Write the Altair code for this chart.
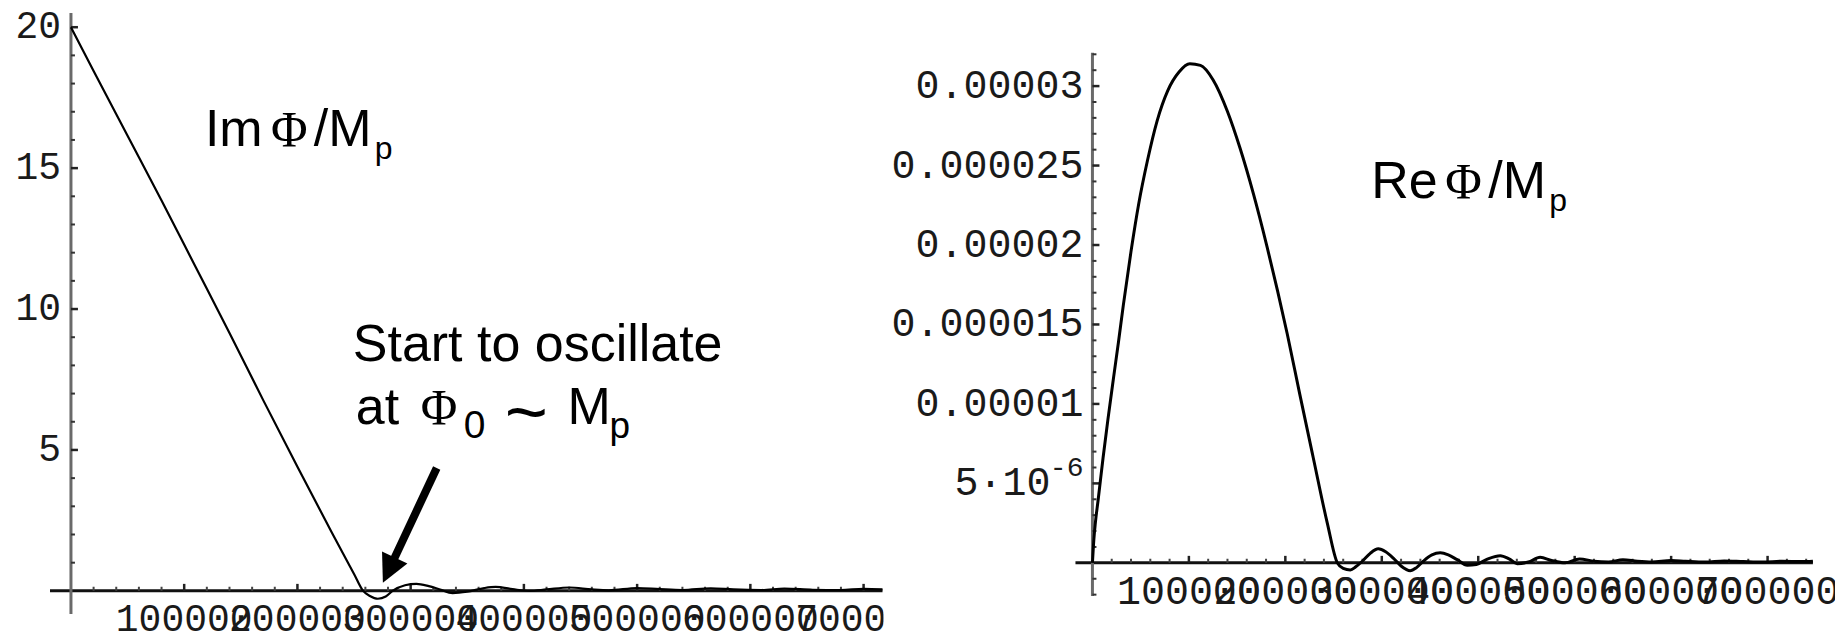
import altair as alt
import pandas as pd

# ---------------- data: left panel (Im Phi / Mp) ----------------
im_x = [0, 20000, 50000, 80000, 110000, 140000, 170000, 200000, 230000, 250000,
        258000, 264000, 271000, 278000, 284000, 295000, 305000, 316000, 326000, 337000,
        350000, 365000, 375000, 390000, 405000, 420000, 440000, 460000, 475000, 500000,
        520000, 540000, 565000, 585000, 610000, 630000, 655000, 680000, 700000, 716700]
im_y = [20.0, 18.45, 16.15, 13.85, 11.5, 9.15, 6.75, 4.4, 2.1, 0.6,
        0.0, -0.18, -0.28, -0.2, 0.0, 0.2, 0.25, 0.17, 0.05, -0.08,
        -0.03, 0.1, 0.14, 0.06, 0.0, 0.05, 0.12, 0.05, 0.02, 0.1,
        0.06, 0.03, 0.09, 0.05, 0.03, 0.08, 0.04, 0.03, 0.07, 0.05]

# ---------------- data: right panel (Re Phi / Mp), y in units of 1e-6 ----------------
re_x = [0, 1500, 3000, 6000, 11000, 16000, 22000, 27000, 32000, 40000,
        48000, 57000, 67000, 78000, 90000, 101000, 112000, 125000, 140000, 153000,
        167000, 181000, 192000, 202000, 215000, 229000, 243500, 253900, 260000, 267400,
        273000, 279800, 288000, 296400, 304000, 311900, 320000, 329500, 336000, 343000,
        352000, 360600, 369000, 378200, 388600, 398000, 410000, 422800, 432000, 440400,
        452000, 464200, 476000, 490000, 505000, 520000, 535000, 550000, 565000, 580000,
        600000, 615000, 635000, 655000, 675000, 695000, 715000, 735000, 747000]
re_y = [0, 1.5, 2.5, 4.0, 6.6, 9.0, 11.7, 13.9, 16.2, 19.6,
        22.6, 25.3, 27.8, 29.7, 30.9, 31.4, 31.3, 30.4, 28.4, 26.1,
        23.2, 19.9, 17.1, 14.4, 10.6, 6.6, 2.5, 0.0, -0.35, -0.45,
        -0.25, 0.1, 0.6, 0.88, 0.7, 0.3, -0.2, -0.5, -0.3, 0.1,
        0.5, 0.63, 0.5, 0.2, -0.15, -0.1, 0.25, 0.45, 0.25, -0.05,
        0.05, 0.35, 0.15, 0.0, 0.25, 0.1, 0.05, 0.2, 0.1, 0.05,
        0.15, 0.1, 0.05, 0.12, 0.08, 0.05, 0.1, 0.08, 0.1]

# ---------------- ticks and labels ----------------
x_major = [100000, 200000, 300000, 400000, 500000, 600000, 700000]
x_labels = ["100000", "200000", "300000", "400000", "500000", "600000", "700000"]
x_minor = [20000, 40000, 60000, 80000, 120000, 140000, 160000, 180000, 220000, 240000,
           260000, 280000, 320000, 340000, 360000, 380000, 420000, 440000, 460000, 480000,
           520000, 540000, 560000, 580000, 620000, 640000, 660000, 680000, 720000, 740000]

ly_major = [5, 10, 15, 20]
ly_labels = ["5", "10", "15", "20"]
ly_minor = [1, 2, 3, 4, 6, 7, 8, 9, 11, 12, 13, 14, 16, 17, 18, 19]

ry_major = [5, 10, 15, 20, 25, 30]
ry_labels = ["5·10", "0.00001", "0.000015", "0.00002", "0.000025", "0.00003"]
ry_exponent = "-6"
ry_minor = [-2, -1, 1, 2, 3, 4, 6, 7, 8, 9, 11, 12, 13, 14, 16, 17, 18, 19,
            21, 22, 23, 24, 26, 27, 28, 29, 31, 32]

# axis line extents (data units)
l_xaxis = [-18500, 716700]
l_yaxis = [-0.82, 20.5]
r_xaxis = [-17600, 747000]
r_yaxis = [-2.08, 32.1]

# annotation anchors (data units)
im_title = (118300, 15.78)
osc_line1 = (248900, 8.156)
osc_line2 = (251500, 5.922)
arrow_shaft = (323000, 4.36, 283300, 0.957)
arrow_head = (280700, 0.734)
re_title = (289100, 22.96)

# ---------------- layout ----------------
W1, W2, H = 876, 949, 624
lxs = alt.Scale(domain=[-55600, 717600], nice=False, zero=False)
lys = alt.Scale(domain=[-1.489, 20.64], nice=False, zero=False)
rxs = alt.Scale(domain=[-213500, 769900], nice=False, zero=False)
rys = alt.Scale(domain=[-4.403, 34.84], nice=False, zero=False)

MONO = "Liberation Mono"
SANS = "Liberation Sans"
SERIF = "Liberation Serif"
INK = "#1a1a1a"


def X(f, s):
    return alt.X(f, scale=s, axis=None)


def Y(f, s):
    return alt.Y(f, scale=s, axis=None)


def txt(x, y, text, xs, ys, **kw):
    d = pd.DataFrame({"x": [x], "y": [y], "t": [text]})
    return alt.Chart(d).mark_text(color="black", align="left", baseline="alphabetic", **kw).encode(
        x=X("x:Q", xs), y=Y("y:Q", ys), text="t:N")


def axes_layers(xs, ys, xaxis, yaxis, ymaj, ymin, xfont, xdy):
    ax_df = pd.DataFrame({"x": [xaxis[0], 0], "x2": [xaxis[1], 0],
                          "y": [0, yaxis[0]], "y2": [0, yaxis[1]], "c": ["x", "y"]})
    lines = alt.Chart(ax_df).mark_rule(strokeWidth=3).encode(
        x=X("x:Q", xs), x2="x2:Q", y=Y("y:Q", ys), y2="y2:Q",
        color=alt.Color("c:N", scale=alt.Scale(domain=["x", "y"], range=["#111111", "#6a6a6a"]), legend=None))
    ytm = alt.Chart(pd.DataFrame({"v": ymaj, "z": 0})).mark_rule(
        color="#222222", strokeWidth=2.5, x2Offset=7).encode(
        y=Y("v:Q", ys), x=X("z:Q", xs), x2="z:Q")
    ytn = alt.Chart(pd.DataFrame({"v": ymin, "z": 0})).mark_rule(
        color="#333333", strokeWidth=2, x2Offset=4).encode(
        y=Y("v:Q", ys), x=X("z:Q", xs), x2="z:Q")
    xtm = alt.Chart(pd.DataFrame({"v": x_major, "z": 0})).mark_rule(
        color="#222222", strokeWidth=2.5, y2Offset=-7).encode(
        x=X("v:Q", xs), y=Y("z:Q", ys), y2="z:Q")
    xtn = alt.Chart(pd.DataFrame({"v": x_minor, "z": 0})).mark_rule(
        color="#444444", strokeWidth=2, y2Offset=-4, clip=True).encode(
        x=X("v:Q", xs), y=Y("z:Q", ys), y2="z:Q")
    xlab = alt.Chart(pd.DataFrame({"v": x_major, "t": x_labels, "z": 0})).mark_text(
        font=MONO, fontSize=xfont, align="center", baseline="alphabetic", dy=xdy,
        color=INK, clip=True).encode(
        x=X("v:Q", xs), y=Y("z:Q", ys), text="t:N")
    return [lines, ytm, ytn, xtm, xtn, xlab]


def ylabels(xs, ys, vals, labels, size, dx):
    return alt.Chart(pd.DataFrame({"v": vals, "t": labels, "z": 0})).mark_text(
        font=MONO, fontSize=size, align="right", baseline="middle", dx=dx, color=INK).encode(
        x=X("z:Q", xs), y=Y("v:Q", ys), text="t:N")


# ---------------- left panel ----------------
left_line = alt.Chart(pd.DataFrame({"x": im_x, "y": im_y})).mark_line(
    color="black", strokeWidth=2.2, interpolate="monotone", clip=True).encode(
    x=X("x:Q", lxs), y=Y("y:Q", lys))

shaft = alt.Chart(pd.DataFrame({"x": [arrow_shaft[0]], "y": [arrow_shaft[1]],
                                "x2": [arrow_shaft[2]], "y2": [arrow_shaft[3]]})).mark_rule(
    color="black", strokeWidth=8).encode(x=X("x:Q", lxs), y=Y("y:Q", lys), x2="x2:Q", y2="y2:Q")
head = alt.Chart(pd.DataFrame({"x": [arrow_head[0]], "y": [arrow_head[1]]})).mark_point(
    shape="M-1,-1L1,-1L0,1Z", size=784, angle=25, filled=True, color="black", opacity=1).encode(
    x=X("x:Q", lxs), y=Y("y:Q", lys))

left_text = [
    txt(*im_title, "Im", lxs, lys, font=SANS, fontSize=52),
    txt(*im_title, "Φ", lxs, lys, font=SERIF, fontSize=50, dx=66),
    txt(*im_title, "/M", lxs, lys, font=SANS, fontSize=52, dx=109),
    txt(*im_title, "p", lxs, lys, font=SANS, fontSize=32, dx=170, dy=13),
    txt(*osc_line1, "Start to oscillate", lxs, lys, font=SANS, fontSize=52),
    txt(*osc_line2, "at", lxs, lys, font=SANS, fontSize=52),
    txt(*osc_line2, "Φ", lxs, lys, font=SERIF, fontSize=50, dx=65),
    txt(*osc_line2, "0", lxs, lys, font=SANS, fontSize=39, dx=108, dy=14),
    txt(*osc_line2, "~", lxs, lys, font=SANS, fontSize=74, dx=149, dy=13),
    txt(*osc_line2, "M", lxs, lys, font=SANS, fontSize=52, dx=212),
    txt(*osc_line2, "p", lxs, lys, font=SANS, fontSize=37, dx=254, dy=14),
]

left = alt.layer(
    *axes_layers(lxs, lys, l_xaxis, l_yaxis, ly_major, ly_minor, 38, 40),
    ylabels(lxs, lys, ly_major, ly_labels, 38, -10),
    left_line, shaft, head, *left_text
).properties(width=W1, height=H)

# ---------------- right panel ----------------
right_line = alt.Chart(pd.DataFrame({"x": re_x, "y": re_y})).mark_line(
    color="black", strokeWidth=3, interpolate="monotone", clip=True).encode(
    x=X("x:Q", rxs), y=Y("y:Q", rys))

exponent = alt.Chart(pd.DataFrame({"x": [0], "y": [ry_major[0]], "t": [ry_exponent]})).mark_text(
    font=MONO, fontSize=28, align="right", baseline="middle", dx=-9, dy=-15, color=INK).encode(
    x=X("x:Q", rxs), y=Y("y:Q", rys), text="t:N")

right_text = [
    txt(*re_title, "Re", rxs, rys, font=SANS, fontSize=52),
    txt(*re_title, "Φ", rxs, rys, font=SERIF, fontSize=50, dx=74),
    txt(*re_title, "/M", rxs, rys, font=SANS, fontSize=52, dx=117),
    txt(*re_title, "p", rxs, rys, font=SANS, fontSize=32, dx=178, dy=13),
]

right = alt.layer(
    *axes_layers(rxs, rys, r_xaxis, r_yaxis, ry_major, ry_minor, 40, 41),
    ylabels(rxs, rys, ry_major[1:], ry_labels[1:], 40, -9),
    ylabels(rxs, rys, ry_major[:1], ry_labels[:1], 40, -42),
    exponent, right_line, *right_text
).properties(width=W2, height=H)

chart = alt.hconcat(left, right, spacing=2).properties(
    padding=0, background="white"
).configure_view(strokeWidth=0)

chart.save("out.html", embed_options={"renderer": "svg", "actions": False})
